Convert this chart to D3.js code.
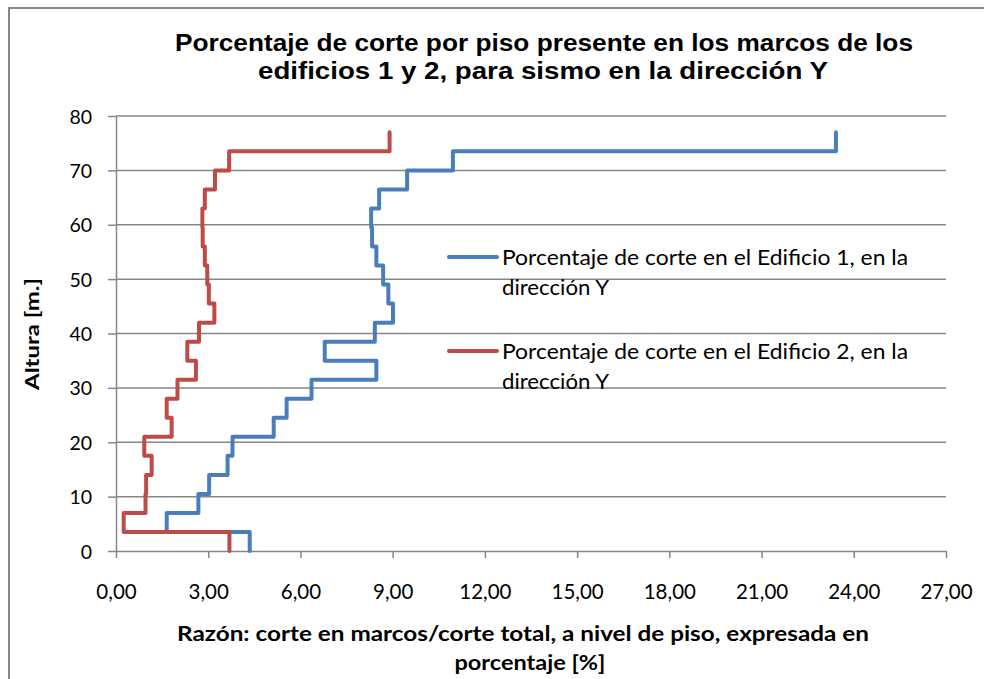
<!DOCTYPE html>
<html>
<head>
<meta charset="utf-8">
<script src="https://cdn.jsdelivr.net/npm/d3@7/dist/d3.min.js"></script>
<style>
  html, body { margin: 0; background: #fff; overflow: hidden; }
  svg { display: block; }
</style>
</head>
<body>
<svg width="984" height="679"></svg>
<script>
// floor levels [m] and shear ratio per floor [%]
const alturas = [0, 3.5, 7, 10.5, 14, 17.5, 21, 24.5, 28, 31.5, 35, 38.5, 42, 45.5, 49, 52.5, 56, 59.5, 63, 66.5, 70, 73.5, 77];
const edificio1 = [4.35, 1.65, 2.68, 3.03, 3.63, 3.79, 5.13, 5.55, 6.36, 8.47, 6.79, 8.42, 9.01, 8.86, 8.69, 8.47, 8.33, 8.30, 8.56, 9.47, 10.96, 23.42];
const edificio2 = [3.69, 0.25, 0.96, 0.98, 1.16, 0.92, 1.81, 1.65, 2.00, 2.60, 2.32, 2.70, 3.20, 3.02, 2.97, 2.89, 2.82, 2.81, 2.89, 3.22, 3.68, 8.90];
const xTicks = [0, 3, 6, 9, 12, 15, 18, 21, 24, 27];
const yTicks = [0, 10, 20, 30, 40, 50, 60, 70, 80];

const series = [
  { name: ['Porcentaje de corte en el Edificio 1, en la', 'dirección Y'], values: edificio1, color: '#4A7EBB' },
  { name: ['Porcentaje de corte en el Edificio 2, en la', 'dirección Y'], values: edificio2, color: '#BE4B48' }
];

const svg = d3.select('svg');
const width = +svg.attr('width');
const height = +svg.attr('height');

const gridColor = '#868686';
const bodyFont = 'Lato, Carlito, sans-serif';

// chart frame (right and bottom edges fall outside the picture)
svg.append('rect')
  .attr('x', 9).attr('y', 8)
  .attr('width', width + 40).attr('height', height + 40)
  .attr('fill', 'none')
  .attr('stroke', gridColor)
  .attr('stroke-width', 2);

const x = d3.scaleLinear().domain([0, 27]).range([116, 946]);
const y = d3.scaleLinear().domain([0, 80]).range([551, 116]);

// gridlines
svg.append('g')
  .selectAll('line')
  .data(yTicks.filter(d => d > 0))
  .enter().append('line')
  .attr('x1', x(0)).attr('x2', x(27))
  .attr('y1', d => y(d)).attr('y2', d => y(d))
  .attr('stroke', gridColor)
  .attr('stroke-width', 1.5);

// axes
const fmt = d => d3.format('.2f')(d).replace('.', ',');

const xAxis = svg.append('g')
  .attr('transform', `translate(0,${y(0)})`)
  .call(d3.axisBottom(x).tickValues(xTicks).tickFormat(fmt).tickSize(7).tickSizeOuter(0));

const yAxis = svg.append('g')
  .attr('transform', `translate(${x(0)},0)`)
  .call(d3.axisLeft(y).tickValues(yTicks).tickSize(8).tickSizeOuter(0));

[xAxis, yAxis].forEach(g => {
  g.select('.domain').attr('stroke', gridColor).attr('stroke-width', 1.5);
  g.selectAll('.tick line').attr('stroke', gridColor).attr('stroke-width', 1.5);
  g.selectAll('.tick text')
    .attr('fill', '#000')
    .style('font-family', bodyFont);
});
xAxis.selectAll('.tick text')
  .style('font-size', '20.5px')
  .attr('y', 0).attr('dy', 0)
  .attr('transform', 'translate(0,48)');
yAxis.selectAll('.tick text')
  .style('font-size', '19.5px')
  .attr('x', -24).attr('dy', '0.36em');

// step lines: each floor holds its value from its base to its top
const line = d3.line().x(d => x(d[0])).y(d => y(d[1]));

series.forEach(s => {
  const pts = [];
  s.values.forEach((v, i) => {
    pts.push([v, alturas[i]]);
    pts.push([v, alturas[i + 1]]);
  });
  svg.append('path')
    .datum(pts)
    .attr('d', line)
    .attr('fill', 'none')
    .attr('stroke', s.color)
    .attr('stroke-width', 4)
    .attr('stroke-linejoin', 'round')
    .attr('stroke-linecap', 'round');
});

// legend
const legend = svg.append('g');
series.forEach((s, i) => {
  const ly = 257 + i * 94;
  legend.append('line')
    .attr('x1', 449).attr('x2', 497)
    .attr('y1', ly).attr('y2', ly)
    .attr('stroke', s.color)
    .attr('stroke-width', 4)
    .attr('stroke-linecap', 'round');
  const t = legend.append('text')
    .attr('x', 502)
    .attr('y', ly + 8)
    .style('font-family', bodyFont)
    .style('font-size', '21px');
  t.append('tspan').attr('x', 502).attr('dy', 0)
    .attr('textLength', 406).attr('lengthAdjust', 'spacingAndGlyphs')
    .text(s.name[0]);
  t.append('tspan').attr('x', 502).attr('dy', 30)
    .attr('textLength', 107).attr('lengthAdjust', 'spacingAndGlyphs')
    .text(s.name[1]);
});

// title
const title = svg.append('text')
  .attr('text-anchor', 'middle')
  .style('font-family', '"Liberation Sans", Arial, sans-serif')
  .style('font-weight', 'bold')
  .style('font-size', '23px');
title.append('tspan').attr('x', 544).attr('y', 51)
  .attr('textLength', 738).attr('lengthAdjust', 'spacingAndGlyphs')
  .text('Porcentaje de corte por piso presente en los marcos de los');
title.append('tspan').attr('x', 543).attr('y', 79)
  .attr('textLength', 570).attr('lengthAdjust', 'spacingAndGlyphs')
  .text('edificios 1 y 2, para sismo en la dirección Y');

// axis titles
const xTitle = svg.append('text')
  .attr('text-anchor', 'middle')
  .style('font-family', bodyFont)
  .style('font-weight', 'bold')
  .style('font-size', '21.5px');
xTitle.append('tspan').attr('x', 523).attr('y', 641)
  .attr('textLength', 692).attr('lengthAdjust', 'spacingAndGlyphs')
  .text('Razón: corte en marcos/corte total, a nivel de piso, expresada en');
xTitle.append('tspan').attr('x', 530).attr('y', 670)
  .attr('textLength', 151).attr('lengthAdjust', 'spacingAndGlyphs')
  .text('porcentaje [%]');

svg.append('text')
  .attr('transform', `translate(39,334) rotate(-90)`)
  .attr('text-anchor', 'middle')
  .attr('textLength', 112).attr('lengthAdjust', 'spacingAndGlyphs')
  .style('font-family', bodyFont)
  .style('font-weight', 'bold')
  .style('font-size', '19px')
  .text('Altura [m.]');
</script>
</body>
</html>
